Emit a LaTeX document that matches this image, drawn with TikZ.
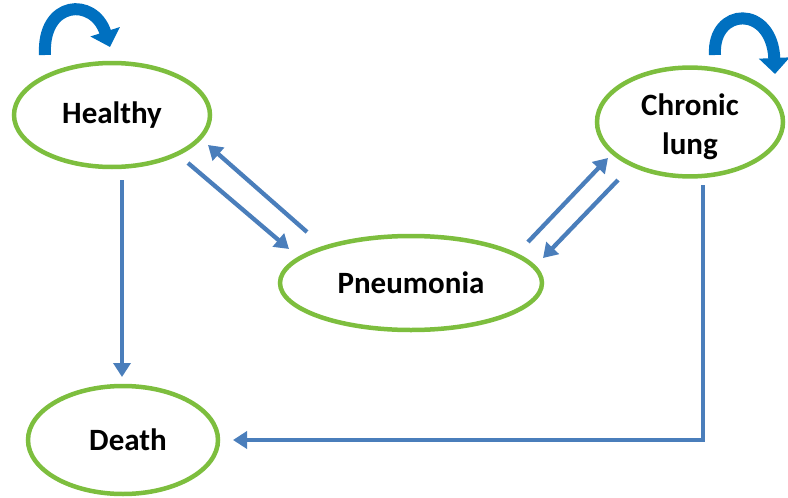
\documentclass[tikz,border=0pt]{standalone}
\usepackage{fontspec}
\setmainfont{Carlito}
\usetikzlibrary{shapes.geometric,arrows.meta,calc}
\definecolor{stategreen}{RGB}{125,190,62}
\definecolor{arrblue}{RGB}{74,126,187}
\definecolor{loopblue}{RGB}{0,112,192}
\tikzset{
  state/.style={ellipse,draw=stategreen,line width=4.5pt,fill=white,inner sep=0pt,
    font=\fontsize{31}{38}\selectfont\bfseries,align=center},
  arr/.style={draw=arrblue,line width=4.3pt,-{Triangle[width=17pt,length=14pt]}},
  selfloop/.style={draw=loopblue,line width=12pt,-{Triangle[width=30pt,length=16pt]}}
}
\begin{document}
\begin{tikzpicture}[x=1pt,y=-1pt]
\useasboundingbox (0,0) rectangle (788,498);
\node[state,minimum width=196pt,minimum height=104pt] (H) at (112,115) {Healthy};
\node[state,minimum width=186pt,minimum height=108pt] (C) at (690,122) {\raisebox{-5pt}[\height][\depth]{\begin{tabular}{@{}c@{}}Chronic\\[1pt]lung\end{tabular}}};
\node[state,minimum width=262pt,minimum height=94pt] (P) at (411,283) {Pneumonia};
\node[state,minimum width=190pt,minimum height=108pt] (D) at (123,440) {\hspace*{10pt}Death};
% connectors
\draw[arr] ([shift={(10,65)}]H.center) -- ([shift={(-1,-63)}]D.center);
\draw[arr] ([shift={(76,48)}]H.center) -- ([shift={(-122,-34)}]P.center);
\draw[arr] ([shift={(-104,-51)}]P.center) -- ([shift={(96,30)}]H.center);
\draw[arr] ([shift={(117,-41)}]P.center) -- ([shift={(-82,36)}]C.center);
\draw[arr] ([shift={(-72,58)}]C.center) -- ([shift={(132,-25)}]P.center);
\draw[arr] ([shift={(13,63)}]C.center) |- ([shift={(110,0)}]D.center);
% self loops
\draw[selfloop] ([shift={(-67,-60)}]H.center) .. controls ([shift={(-70,-115)}]H.center) and ([shift={(-18,-118)}]H.center) .. ([shift={(-2,-68)}]H.center);
\draw[selfloop] ([shift={(25,-67)}]C.center) .. controls ([shift={(22,-115)}]C.center) and ([shift={(82,-118)}]C.center) .. ([shift={(85,-48)}]C.center);
\end{tikzpicture}
\end{document}
